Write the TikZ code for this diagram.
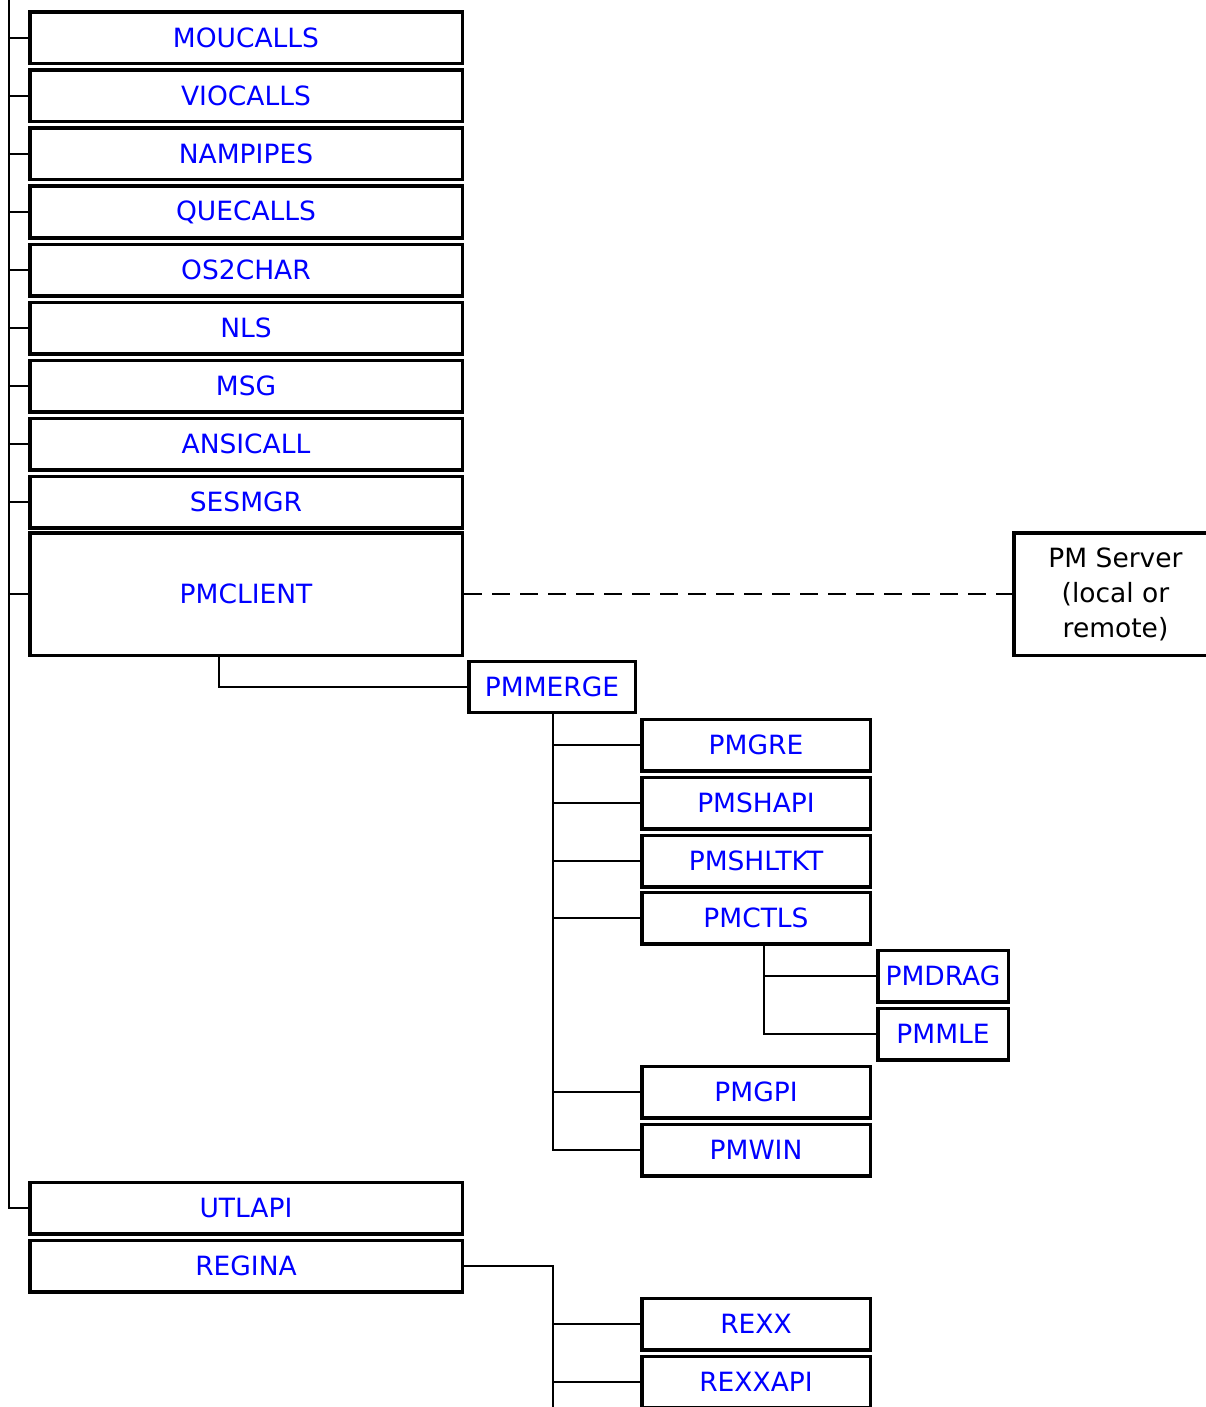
\documentclass[tikz,border=0pt]{standalone}
\usepackage{fontspec}
\setmainfont{DejaVu Sans}
\usetikzlibrary{calc}
\begin{document}
\begin{tikzpicture}[x=1pt,y=-1pt,
  mod/.style={draw=black,line width=3.5pt,fill=white,inner sep=0pt,minimum height=51.5pt,
    text=blue,font=\fontsize{26.5}{35}\selectfont,anchor=center},
  wide/.style={mod,minimum width=432.5pt},
  mid/.style={mod,minimum width=228.5pt},
  conn/.style={line width=1.6pt,black},
]
\clip (0,0) rectangle (1206,1407);
\useasboundingbox (0,0) rectangle (1206,1407);
% left column
\node[wide] (mou) at (246,38) {MOUCALLS};
\node[wide] (vio) at (246,96) {VIOCALLS};
\node[wide] (nam) at (246,154) {NAMPIPES};
\node[wide] (que) at (246,212) {QUECALLS};
\node[wide] (os2) at (246,270) {OS2CHAR};
\node[wide] (nls) at (246,328) {NLS};
\node[wide] (msg) at (246,386) {MSG};
\node[wide] (ans) at (246,444) {ANSICALL};
\node[wide] (ses) at (246,502) {SESMGR};
\node[wide,minimum height=122.5pt] (pmc) at (246,594) {PMCLIENT};
\node[wide] (utl) at (246,1208) {UTLAPI};
\node[wide] (reg) at (246,1266) {REGINA};
% PM server
\node[draw=black,line width=3.5pt,minimum width=203pt,minimum height=122.5pt,inner sep=0pt,
  align=center,font=\fontsize{26.5}{35}\selectfont] (srv) at (1115.5,594) {PM Server\\(local or\\remote)};
% PMMERGE
\node[mod,minimum width=166.5pt,minimum height=51pt] (pmm) at (552,687) {PMMERGE};
\node[mid] (gre) at (756,745) {PMGRE};
\node[mid] (sha) at (756,803) {PMSHAPI};
\node[mid] (shl) at (756,861) {PMSHLTKT};
\node[mid] (ctl) at (756,918) {PMCTLS};
\node[mod,minimum width=130.5pt] (drg) at (943,976) {PMDRAG};
\node[mod,minimum width=130.5pt] (mle) at (943,1034) {PMMLE};
\node[mid] (gpi) at (756,1092) {PMGPI};
\node[mid] (win) at (756,1150) {PMWIN};
\node[mid] (rexx) at (756,1324) {REXX};
\node[mid] (rapi) at (756,1382) {REXXAPI};
% connectors
\coordinate (spine) at (9,0);
\draw[conn] (spine) |- (utl.west);
\foreach \n in {mou,vio,nam,que,os2,nls,msg,ans,ses,pmc}
  \draw[conn] (spine |- \n.west) -- (\n.west);
\draw[conn,dash pattern=on 18pt off 10pt] (pmc.east) -- (srv.west);
\coordinate (pcs) at ($(pmc.south)+(-27,0)$);
\draw[conn] (pcs) |- (pmm.west);
\coordinate (ms) at ($(pmm.south)+(1,0)$);
\draw[conn] (ms) |- (win.west);
\foreach \n in {gre,sha,shl,ctl,gpi}
  \draw[conn] (ms |- \n.west) -- (\n.west);
\coordinate (cs) at ($(ctl.south)+(8,0)$);
\draw[conn] (cs) |- (mle.west);
\draw[conn] (cs |- drg.west) -- (drg.west);
\coordinate (rb) at (553,1410);
\draw[conn] (reg.east) -| (rb);
\foreach \n in {rexx,rapi}
  \draw[conn] (rb |- \n.west) -- (\n.west);
\end{tikzpicture}
\end{document}
